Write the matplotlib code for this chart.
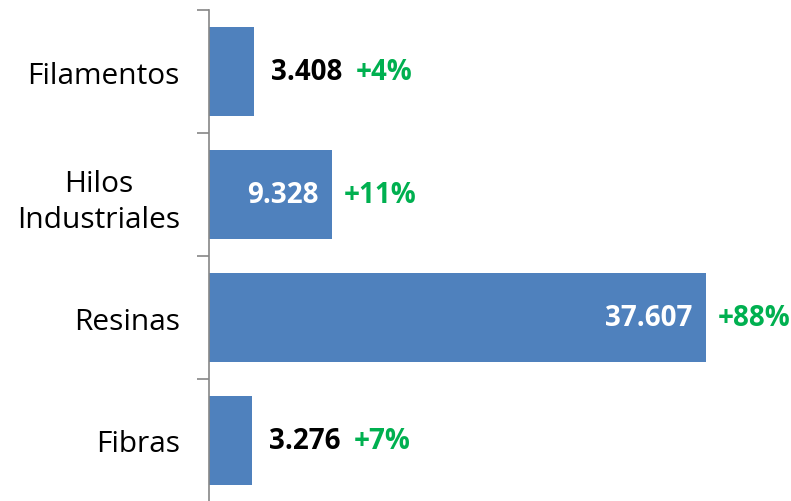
import matplotlib.pyplot as plt
import numpy as np

# data
categories = ["Filamentos", "Hilos\nIndustriales", "Resinas", "Fibras"]
values = [3408, 9328, 37607, 3276]
value_labels = ["3.408", "9.328", "37.607", "3.276"]
growth_labels = ["+4%", "+11%", "+88%", "+7%"]
label_inside = [False, True, True, False]

bar_color = "#4F81BD"
green = "#00B050"
axis_gray = "#868686"

plt.rcParams['font.family'] = ['Open Sans', 'DejaVu Sans']

fig = plt.figure(figsize=(7.91, 5.02), dpi=100)
ax = fig.add_axes([209 / 791, -1 / 502, 1 - 209 / 791, 1 - 10 / 502])

y = np.arange(len(categories))
bars = ax.barh(y, values, height=0.73, color=bar_color)
ax.set_ylim(len(categories) - 0.5, -0.5)
ax.set_xlim(0, 44040)

# labels on the left, ticks only between categories
ax.set_yticks(y)
ax.set_yticklabels(categories, fontsize=21.5, multialignment='center', linespacing=1.3)
ax.set_yticks(np.arange(len(categories) + 1) - 0.5, minor=True)
ax.tick_params(axis='y', which='major', length=0, pad=21)
ax.tick_params(axis='y', which='minor', length=9, width=1.2, color=axis_gray)
ax.set_xticks([])
for s in ['top', 'right', 'bottom']:
    ax.spines[s].set_visible(False)
ax.spines['left'].set_color(axis_gray)
ax.spines['left'].set_linewidth(1.2)

for i, b in enumerate(bars):
    end = b.get_width()
    if label_inside[i]:
        ax.annotate(value_labels[i], (end, y[i]), xytext=(-10, 0), textcoords='offset points',
                    ha='right', va='center', fontsize=20, fontweight='bold', color='white')
        ax.annotate(growth_labels[i], (end, y[i]), xytext=(8.5, 0), textcoords='offset points',
                    ha='left', va='center', fontsize=20, fontweight='bold', color=green)
    else:
        t = ax.annotate(value_labels[i], (end, y[i]), xytext=(12, 0), textcoords='offset points',
                        ha='left', va='center', fontsize=20, fontweight='bold', color='black')
        ax.annotate(growth_labels[i], xy=(1, 0.5), xycoords=t, xytext=(9.5, 0),
                    textcoords='offset points', ha='left', va='center', fontsize=20,
                    fontweight='bold', color=green)

fig.savefig("out.png", dpi=100)
